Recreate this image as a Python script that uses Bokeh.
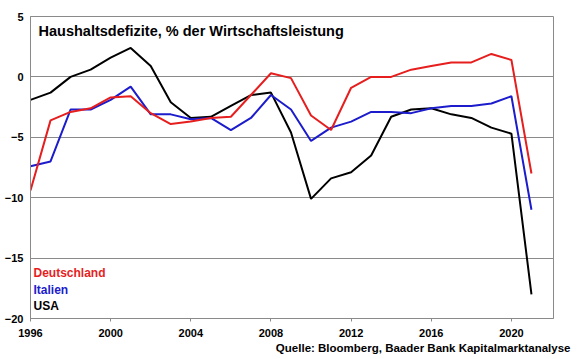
from bokeh.plotting import figure
from bokeh.models import FixedTicker, Range1d, Label, Title
from bokeh.core.properties import value
from bokeh.embed import file_html
from bokeh.resources import INLINE

years = [1996, 1997, 1998, 1999, 2000, 2001, 2002, 2003, 2004, 2005, 2006, 2007, 2008,
         2009, 2010, 2011, 2012, 2013, 2014, 2015, 2016, 2017, 2018, 2019, 2020, 2021]
deutschland = [-9.4, -3.6, -2.9, -2.6, -1.7, -1.6, -3.0, -3.9, -3.7, -3.4, -3.3, -1.5, 0.3,
               -0.1, -3.2, -4.4, -0.9, 0.0, 0.0, 0.6, 0.9, 1.2, 1.2, 1.9, 1.4, -8.0]
italien = [-7.4, -7.0, -2.7, -2.7, -1.9, -0.8, -3.1, -3.1, -3.5, -3.4, -4.4, -3.4, -1.5,
           -2.7, -5.3, -4.2, -3.7, -2.9, -2.9, -3.0, -2.6, -2.4, -2.4, -2.2, -1.6, -11.0]
usa = [-1.9, -1.3, 0.0, 0.6, 1.6, 2.4, 0.9, -2.1, -3.4, -3.3, -2.4, -1.5, -1.3,
       -4.6, -10.1, -8.4, -7.9, -6.5, -3.3, -2.7, -2.6, -3.1, -3.4, -4.2, -4.7, -18.0]
x_ticks = [1996, 2000, 2004, 2008, 2012, 2016, 2020]
y_ticks = [-20, -15, -10, -5, 0, 5]
series_names = ["Deutschland", "Italien", "USA"]

title_text = "Haushaltsdefizite, % der Wirtschaftsleistung"
source_text = "Quelle: Bloomberg, Baader Bank Kapitalmarktanalyse"

RED = "#e61e1e"
BLUE = "#1c1ccc"
BLACK = "#000000"
GRID = "#8a8a8a"
FONT = "Liberation Sans"

p = figure(width=580, height=359, output_backend="svg", toolbar_location=None,
           x_range=Range1d(1996, 2022.1), y_range=Range1d(-20, 5),
           min_border_left=30, min_border_right=27, min_border_top=16, min_border_bottom=41)
p.background_fill_color = "white"
p.border_fill_color = "white"
p.outline_line_color = GRID
p.outline_line_width = 1

# axes
p.xaxis.ticker = FixedTicker(ticks=x_ticks)
p.yaxis.ticker = FixedTicker(ticks=y_ticks)
for ax in (p.xaxis, p.yaxis):
    ax.axis_line_color = GRID
    ax.major_tick_line_color = GRID
    ax.minor_tick_line_color = None
    ax.major_label_text_font = FONT
    ax.major_label_text_font_style = "bold"
    ax.major_label_text_font_size = "11px"
    ax.major_label_text_color = "black"
    ax.major_tick_in = 0
p.xaxis.major_tick_out = 3
p.xaxis.major_label_standoff = 7
p.yaxis.major_tick_out = 0
p.yaxis.major_label_standoff = 7

p.xgrid.grid_line_color = None
p.ygrid.grid_line_color = GRID
p.ygrid.grid_line_width = 1
p.ygrid.ticker = FixedTicker(ticks=y_ticks)

# lines
p.line(years, usa, line_color=BLACK, line_width=2)
p.line(years, italien, line_color=BLUE, line_width=2)
p.line(years, deutschland, line_color=RED, line_width=2)

# title inside the plot
p.add_layout(Label(x=1996.4, y=3.84, text=title_text, text_font=FONT,
                   text_font_style="bold", text_font_size="14.5px",
                   text_baseline="middle", text_color="black"))

# legend as coloured text
legend_y = [-16.2, -17.6, -18.95]
legend_colors = [RED, BLUE, BLACK]
p.text(x=[1996.15] * 3, y=legend_y, text=series_names, text_color=legend_colors,
       text_font=value(FONT), text_font_style="bold", text_font_size="12px",
       text_baseline="middle", text_align="left")

# source below the axis
p.add_layout(Title(text=source_text, text_font=FONT, text_font_style="bold",
                   text_font_size="11.5px", align="right", offset=-17, standoff=0,
                   text_color="black"), "below")

open("out.html", "w").write(file_html(p, INLINE))
